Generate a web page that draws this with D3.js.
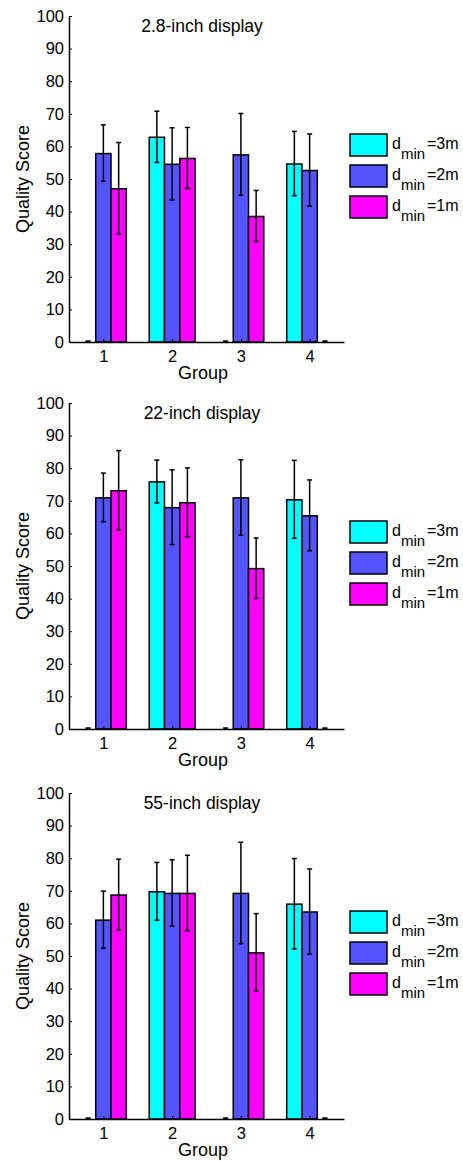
<!DOCTYPE html>
<html>
<head>
<meta charset="utf-8">
<script src="https://cdn.jsdelivr.net/npm/d3@7"></script>
<style>
  body { margin: 0; background: #fff; }
  svg text { font-family: "Liberation Sans", Arial, sans-serif; fill: #000; }
</style>
</head>
<body>
<div id="container"></div>
<script>
var groups = ['1', '2', '3', '4'],
    titles = ['2.8-inch display', '22-inch display', '55-inch display'],
    legendDist = ['3m', '2m', '1m'],
    colors = ['#00ffff', '#5555ff', '#ff00ff'],
    yTicks = [0, 10, 20, 30, 40, 50, 60, 70, 80, 90, 100];

// mean scores, one array per series (dmin = 3m, 2m, 1m), per panel
var small3 = [0, 62.8, 0, 54.6],
    small2 = [57.8, 54.5, 57.4, 52.6],
    small1 = [47, 56.3, 38.5, 0],
    mid3 = [0, 75.8, 0, 70.3],
    mid2 = [70.9, 67.9, 70.9, 65.4],
    mid1 = [73.1, 69.4, 49.2, 0],
    big3 = [0, 69.7, 0, 65.9],
    big2 = [61, 69.2, 69.2, 63.5],
    big1 = [68.7, 69.2, 51, 0];

// error bar half lengths
var smallErr3 = [0, 8, 0, 10],
    smallErr2 = [8.8, 11.2, 12.7, 11.2],
    smallErr1 = [14.2, 9.5, 8, 0],
    midErr3 = [0, 6.7, 0, 12.1],
    midErr2 = [7.6, 11.6, 11.7, 11],
    midErr1 = [12.3, 10.7, 9.4, 0],
    bigErr3 = [0, 9, 0, 14],
    bigErr2 = [8.9, 10.3, 15.7, 13.2],
    bigErr1 = [11, 11.7, 12, 0];

var panels = [
    { values: [small3, small2, small1], errs: [smallErr3, smallErr2, smallErr1] },
    { values: [mid3, mid2, mid1], errs: [midErr3, midErr2, midErr1] },
    { values: [big3, big2, big1], errs: [bigErr3, bigErr2, bigErr1] }
];

var width = 463,
    height = 1161,
    panelTops = [16, 403, 793],
    plotH = 326,
    left = 69,
    right = 344,
    bw = 0.2222;

var svg = d3.select('#container')
    .append('svg')
    .attr('width', width)
    .attr('height', height);

var x = d3.scaleLinear()
    .domain([0.5, groups.length + 0.5])
    .range([left, right]);

var y = d3.scaleLinear()
    .domain([0, 100])
    .range([plotH, 0]);

var barW = x(bw) - x(0);

panels.forEach(function(p, pi) {
    var g = svg.append('g')
        .attr('transform', 'translate(0,' + panelTops[pi] + ')');

    // bars
    p.values.forEach(function(vals, s) {
        var off = (s - 1) * bw;
        g.selectAll('rect.s' + s)
            .data(vals)
            .enter()
            .append('rect')
            .attr('x', function(d, i) { return x(i + 1 + off) - barW / 2; })
            .attr('y', function(d) { return y(d); })
            .attr('width', barW)
            .attr('height', function(d) { return y(0) - y(d); })
            .style('fill', colors[s])
            .style('stroke', '#000')
            .style('stroke-width', 1.5);
    });

    // error bars
    p.values.forEach(function(vals, s) {
        var off = (s - 1) * bw;
        var eb = g.selectAll('g.e' + s)
            .data(vals)
            .enter()
            .append('g')
            .attr('transform', function(d, i) {
                return 'translate(' + x(i + 1 + off) + ',0)';
            })
            .style('stroke', '#000')
            .style('stroke-width', 1.5);
        eb.append('line')
            .attr('y1', function(d, i) { return y(d + p.errs[s][i]); })
            .attr('y2', function(d, i) { return y(d - p.errs[s][i]); });
        eb.append('line')
            .attr('x1', -2.5).attr('x2', 2.5)
            .attr('y1', function(d, i) { return y(d + p.errs[s][i]); })
            .attr('y2', function(d, i) { return y(d + p.errs[s][i]); });
        eb.append('line')
            .attr('x1', -2.5).attr('x2', 2.5)
            .attr('y1', function(d, i) { return y(d - p.errs[s][i]) - 1; })
            .attr('y2', function(d, i) { return y(d - p.errs[s][i]) - 1; });
    });

    // axes
    var ax = g.append('g')
        .attr('transform', 'translate(' + left + ',0)')
        .call(d3.axisLeft(y).tickValues(yTicks).tickSizeInner(-3).tickSizeOuter(0).tickPadding(5));
    var bx = g.append('g')
        .attr('transform', 'translate(0,' + plotH + ')')
        .call(d3.axisBottom(x).tickValues([1, 2, 3, 4])
            .tickFormat(function(d) { return groups[d - 1]; })
            .tickSizeInner(-3).tickSizeOuter(0).tickPadding(8));
    [ax, bx].forEach(function(a) {
        a.select('.domain').style('stroke-width', 1.5);
        a.selectAll('text').style('font-size', '16.5px').style('font-family', null);
    });

    g.append('text')
        .attr('x', 202)
        .attr('y', 16)
        .attr('text-anchor', 'middle')
        .style('font-size', '17.5px')
        .text(titles[pi]);

    g.append('text')
        .attr('transform', 'translate(29,' + plotH / 2 + ') rotate(-90)')
        .attr('text-anchor', 'middle')
        .style('font-size', '18px')
        .text('Quality Score');

    g.append('text')
        .attr('x', 203)
        .attr('y', plotH + 37)
        .attr('text-anchor', 'middle')
        .style('font-size', '18px')
        .text('Group');

    // legend
    var leg = g.selectAll('g.leg')
        .data(legendDist)
        .enter()
        .append('g')
        .attr('transform', function(d, i) {
            return 'translate(350,' + (118 + i * 31) + ')';
        });
    leg.append('rect')
        .attr('width', 37)
        .attr('height', 22)
        .style('fill', function(d, i) { return colors[i]; })
        .style('stroke', '#000')
        .style('stroke-width', 1.5);
    leg.append('text')
        .attr('x', 42)
        .attr('y', 15)
        .style('font-size', '16px')
        .text('d');
    leg.append('text')
        .attr('x', 51)
        .attr('y', 25)
        .style('font-size', '15px')
        .text('min');
    leg.append('text')
        .attr('x', 77)
        .attr('y', 15)
        .style('font-size', '16px')
        .text(function(d) { return '=' + d; });
});
</script>
</body>
</html>
